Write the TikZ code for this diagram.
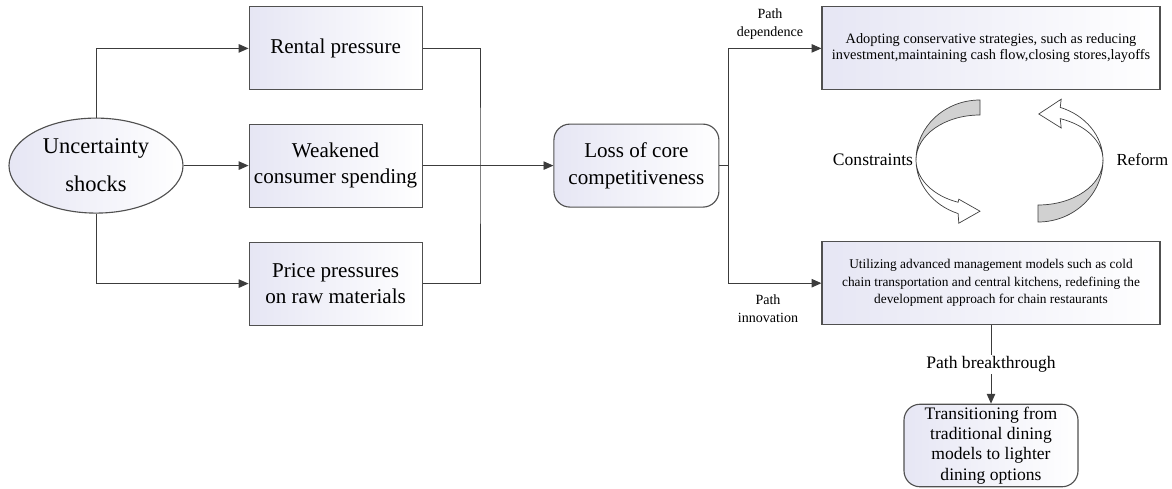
\documentclass[tikz,border=0pt]{standalone}
\usepackage{fontspec}
\setmainfont{Liberation Serif}
\usetikzlibrary{arrows.meta,shapes.geometric}
\definecolor{boxlav}{RGB}{230,230,244}
\definecolor{edgegray}{RGB}{80,80,80}
\definecolor{linegray}{RGB}{60,60,60}
\begin{document}
\begin{tikzpicture}[
  box/.style={draw=edgegray,line width=0.8pt,left color=boxlav,right color=white,align=center,inner sep=2pt},
  bigbox/.style={box,minimum width=4.325cm,minimum height=2.075cm,font=\fontsize{15}{19}\selectfont},
  widebox/.style={box,minimum width=8.45cm,minimum height=2.075cm,font=\fontsize{9.5}{12.4}\selectfont},
  lbl/.style={align=center,font=\fontsize{10}{12.8}\selectfont},
  conn/.style={draw=linegray,line width=0.7pt},
  arr/.style={conn,-{Triangle[length=7pt,width=6pt]}},
  twist/.style={draw=black!75,line width=0.5pt}
]
\useasboundingbox (0,0) rectangle (29.3,12.2);
% causes
\node[ellipse,box,minimum width=4.35cm,minimum height=2.375cm,font=\fontsize{16}{27}\selectfont] (shock) at (2.4,8.06) {Uncertainty\\shocks};
\node[bigbox] (rent) at (8.39,10.99) {Rental pressure};
\node[bigbox] (weak) at (8.39,8.06) {Weakened\\consumer spending};
\node[bigbox] (price) at (8.39,5.11) {Price pressures\\on raw materials};
\node[bigbox,rounded corners=0.4cm,minimum width=4.125cm] (loss) at (15.91,8.06) {Loss of core\\competitiveness};
% paths
\node[widebox,font=\fontsize{10.2}{11.5}\selectfont] (cons) at (24.775,10.99) {Adopting conservative strategies, such as reducing\\investment,maintaining cash flow,closing stores,layoffs};
\node[widebox] (innov) at (24.775,5.12) {Utilizing advanced management models such as cold\\chain transportation and central kitchens, redefining the\\development approach for chain restaurants};
\node[box,rounded corners=0.4cm,minimum width=4.35cm,minimum height=2.025cm,font=\fontsize{12.5}{14.4}\selectfont] (trans) at (24.775,1.0625) {Transitioning from\\traditional dining\\models to lighter\\dining options};
\coordinate (busL) at (12,8.06);
\coordinate (busR) at (18.2,8.06);
\draw[arr] (shock.north) |- (rent.west);
\draw[arr] (shock.east) -- (weak.west);
\draw[arr] (shock.south) |- (price.west);
\draw[conn] (rent.east) -| (busL) |- (price.east);
\draw[arr] (weak.east) -- (loss.west);
\draw[conn] (loss.east) -- (busR);
\draw[arr] (busR) |- (cons.west);
\draw[arr] (busR) |- (innov.west);
\draw[arr] (innov.south) -- node[fill=white,inner sep=1pt,font=\fontsize{12.5}{15}\selectfont] (brk) {Path breakthrough} (trans.north);
\node[lbl] (pdep) at (19.25,11.6) {Path\\dependence};
\node[lbl] (pinn) at (19.2,4.475) {Path\\innovation};
\node[font=\fontsize{12.5}{15}\selectfont] (cstr) at (21.825,8.2) {Constraints};
\node[font=\fontsize{12}{15}\selectfont] (rfm) at (28.56,8.2) {Reform};
% constraints arrow
\begin{scope}[shift={(24.5,8.2)}]
\draw[twist,fill=black!18] (0,1.5) arc[start angle=90,end angle=180,x radius=1.6,y radius=1.5] arc[start angle=180,end angle=90,x radius=1.6,y radius=1.125] -- cycle;
\draw[twist,fill=white] (-1.6,0) arc[start angle=180,end angle=250,x radius=1.6,y radius=1.425] -- (-0.53,-1.58) -- (0,-1.28) -- (-0.53,-0.98) -- (-0.547,-1.057) arc[start angle=250,end angle=180,x radius=1.6,y radius=1.125] -- cycle;
\end{scope}
% reform arrow
\begin{scope}[shift={(25.95,8.2)}]
\draw[twist,fill=black!18] (0,-1.55) arc[start angle=270,end angle=360,x radius=1.625,y radius=1.55] arc[start angle=0,end angle=-90,x radius=1.625,y radius=1.125] -- cycle;
\draw[twist,fill=white] (1.625,0) arc[start angle=0,end angle=70,x radius=1.625,y radius=1.4] -- (0.58,1.52) -- (0.02,1.15) -- (0.58,0.8) -- (0.556,1.034) arc[start angle=70,end angle=0,x radius=1.625,y radius=1.1] -- cycle;
\end{scope}
\end{tikzpicture}
\end{document}
